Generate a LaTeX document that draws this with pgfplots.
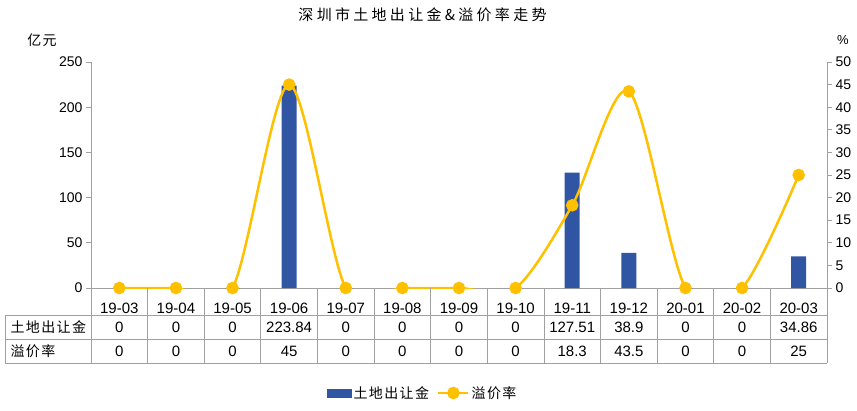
\documentclass[border=0pt]{standalone}
\usepackage{pgfplots}
\pgfplotsset{compat=1.18}
\usepackage{fontspec}
\setmainfont{Liberation Sans}
\newfontfamily\cjk[LetterSpace=10]{Noto Sans CJK SC}
\newfontfamily\cjktitle[LetterSpace=22]{Noto Sans CJK SC}
\definecolor{barblue}{HTML}{2F55A3}
\definecolor{gold}{HTML}{FFC000}
\definecolor{linegray}{HTML}{A0A0A0}

\begin{document}
\begin{tikzpicture}[x=1pt,y=1pt]
\useasboundingbox (-91,-122) rectangle (766,288);
% left axis: land sales (yi yuan)
\begin{axis}[
    at={(0,0)}, anchor=south west, scale only axis,
    width=736pt, height=226pt,
    xmin=-0.5, xmax=12.5, ymin=0, ymax=250,
    axis y line*=left, axis x line*=bottom,
    axis line style={linegray, line width=0.8pt},
    ytick={0,50,...,250},
    xtick={0,...,12},
    xticklabels={19-03,19-04,19-05,19-06,19-07,19-08,19-09,19-10,19-11,19-12,20-01,20-02,20-03},
    xtick style={draw=none},
    ytick style={linegray, line width=0.8pt},
    tick align=outside, major tick length=5pt,
    /pgf/number format/assume math mode=true,
    tick label style={font=\fontsize{14}{16}\selectfont},
    x tick label style={font=\fontsize{15}{17}\selectfont, anchor=center, yshift=-15pt},
    legend style={at={(axis description cs:0.4504,-0.4646)}, anchor=center,
        draw=none, fill=none, legend columns=2,
        font=\cjk\fontsize{14}{16}\selectfont,
        /tikz/every even column/.append style={column sep=6pt}},
    legend cell align=left,
]
\addplot[ybar, bar width=15pt, fill=barblue, draw=none,
    legend image code/.code={\fill[barblue] (0pt,-4.5pt) rectangle (25pt,4.5pt);}]
  coordinates {(0,0) (1,0) (2,0) (3,223.84) (4,0) (5,0) (6,0) (7,0)
               (8,127.51) (9,38.9) (10,0) (11,0) (12,34.86)};
\addlegendentry{土地出让金}
\addlegendimage{gold, line width=2.5pt, mark=*, mark size=5pt, mark options={fill=gold, draw=gold},
    legend image code/.code={\draw[mark repeat=2,mark phase=2] plot coordinates {(0pt,0pt)(15pt,0pt)(30pt,0pt)};}}
\addlegendentry{溢价率}
\end{axis}
% right axis: premium rate (%)
\begin{axis}[
    at={(0,0)}, anchor=south west, scale only axis,
    width=736pt, height=226pt,
    xmin=-0.5, xmax=12.5, ymin=0, ymax=50,
    axis y line*=right, axis x line=none,
    axis line style={linegray, line width=0.8pt},
    ytick={0,5,...,50},
    ytick style={linegray, line width=0.8pt},
    tick align=outside, major tick length=5pt,
    /pgf/number format/assume math mode=true,
    tick label style={font=\fontsize{14}{16}\selectfont},
]
\addplot[gold, line width=2.5pt, smooth, tension=0.5, mark=*, mark size=5pt,
    mark options={fill=gold, draw=gold}]
  coordinates {(0,0) (1,0) (2,0) (3,45) (4,0) (5,0) (6,0) (7,0)
               (8,18.3) (9,43.5) (10,0) (11,0) (12,25)};
\end{axis}
% titles and unit labels
\node[font=\cjktitle\fontsize{15}{17}\selectfont] at (331.5,273) {深圳市土地出让金\&溢价率走势};
\node[font=\cjk\fontsize{14}{16}\selectfont] at (-49,248) {亿元};
\node[font=\fontsize{13}{15}\selectfont] at (752,248) {\%};
% data table under the axis
\draw[linegray, line width=0.8pt] (-86,-27) -- (736,-27) (-86,-51) -- (736,-51) (-86,-75) -- (736,-75)
    (-86,-27) -- (-86,-75);
\foreach \k in {0,...,13} \draw[linegray, line width=0.8pt] ({56.615*\k},0) -- ({56.615*\k},-75);
\node[anchor=west, font=\cjk\fontsize{14}{16}\selectfont] at (-84,-39.5) {土地出让金};
\node[anchor=west, font=\cjk\fontsize{14}{16}\selectfont] at (-84,-63) {溢价率};
\foreach \v [count=\i from 0] in {0,0,0,223.84,0,0,0,0,127.51,38.9,0,0,34.86}
  \node[font=\fontsize{15}{17}\selectfont] at ({56.615*\i+28.31},-39.5) {\v};
\foreach \v [count=\i from 0] in {0,0,0,45,0,0,0,0,18.3,43.5,0,0,25}
  \node[font=\fontsize{15}{17}\selectfont] at ({56.615*\i+28.31},-63) {\v};
\end{tikzpicture}
\end{document}
